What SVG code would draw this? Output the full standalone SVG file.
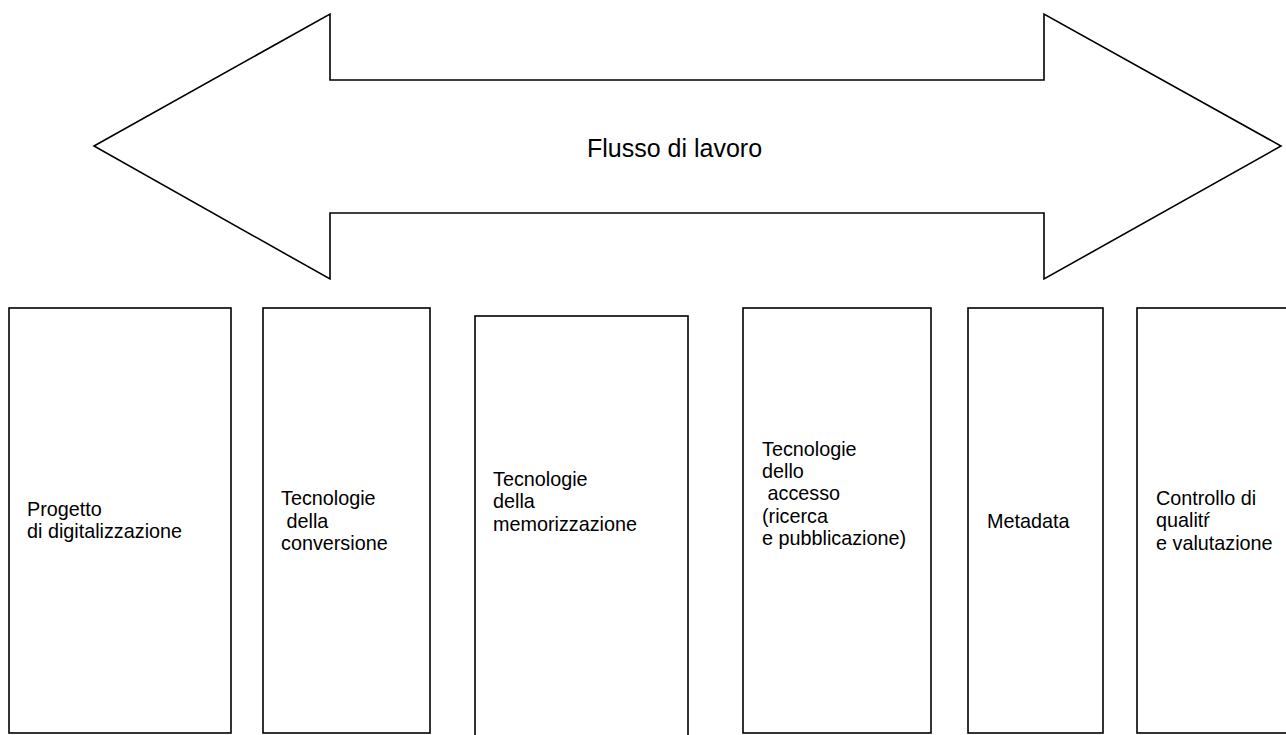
<svg xmlns="http://www.w3.org/2000/svg" width="1286" height="735" viewBox="0 0 1286 735">
<style>
.sh{fill:#fff;stroke:#000;stroke-width:1.6}
.t{font-family:"Liberation Sans",Arial,sans-serif;font-size:19.8px;fill:#000}
.tt{font-family:"Liberation Sans",Arial,sans-serif;font-size:25px;fill:#000}
</style>
<rect width="1286" height="735" fill="#fff"/>
<g id="arrow">
<polygon class="sh" points="94,146 330,14 330,80 1044,80 1044,14 1281,146 1044,279 1044,213 330,213 330,279"/>
<text class="tt" x="587" y="157">Flusso di lavoro</text>
</g>
<g id="n1">
<rect class="sh" x="9" y="308" width="222" height="425"/>
<text class="t" x="27" y="516">Progetto</text>
<text class="t" x="27" y="538">di digitalizzazione</text>
</g>
<g id="n2">
<rect class="sh" x="263" y="308" width="167" height="425"/>
<text class="t" x="281" y="505">Tecnologie</text>
<text class="t" x="281" y="528" xml:space="preserve"> della</text>
<text class="t" x="281" y="550">conversione</text>
</g>
<g id="n3">
<rect class="sh" x="475" y="316" width="213" height="440"/>
<text class="t" x="493" y="486">Tecnologie</text>
<text class="t" x="493" y="508">della</text>
<text class="t" x="493" y="531">memorizzazione</text>
</g>
<g id="n4">
<rect class="sh" x="743" y="308" width="188" height="425"/>
<text class="t" x="762" y="456">Tecnologie</text>
<text class="t" x="762" y="478">dello</text>
<text class="t" x="762" y="500" xml:space="preserve"> accesso</text>
<text class="t" x="762" y="523">(ricerca</text>
<text class="t" x="762" y="545">e pubblicazione)</text>
</g>
<g id="n5">
<rect class="sh" x="968" y="308" width="135" height="425"/>
<text class="t" x="987" y="528">Metadata</text>
</g>
<g id="n6">
<rect class="sh" x="1137" y="308" width="170" height="425"/>
<text class="t" x="1156" y="505">Controllo di</text>
<text class="t" x="1156" y="527">qualitŕ</text>
<text class="t" x="1156" y="550">e valutazione</text>
</g>
<g id="connectors"></g>
</svg>
